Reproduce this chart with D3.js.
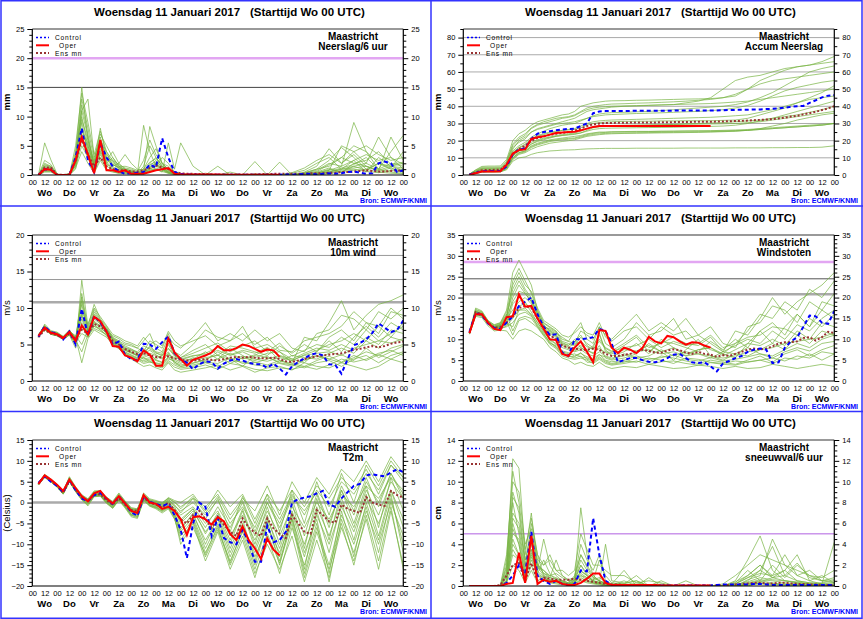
<!DOCTYPE html>
<html lang="nl">
<head>
<meta charset="UTF-8">
<title>EPS pluim Maastricht</title>
<script src="https://cdn.jsdelivr.net/npm/d3@7"></script>
<style>
  body { margin: 0; background: #fff; }
  svg text { font-family: "Liberation Sans", Arial, Helvetica, sans-serif; }
</style>
</head>
<body>
<svg id="chart" width="863" height="619"></svg>
<script>
// tijd-as: 15 dagen, labels per dag
const days = ["Wo","Do","Vr","Za","Zo","Ma","Di","Wo","Do","Vr","Za","Zo","Ma","Di","Wo"];
const mainHours = d3.range(6, 361, 6);                                   // control / ens mn
const operHours = d3.range(6, 241, 6);                                   // oper tot +240
const memberHours = d3.range(6, 145, 6).concat(d3.range(156, 361, 12));  // leden

// ---------- Neerslag/6 uur (mm) ----------
const ctrlNeerslag = [0,1.0,0.9,0,0,0,3,8,2.5,0.5,5.5,3,1.5,0.6,0.2,0.3,0.4,0.5,1.8,1.3,6.3,3.0,0.5,0.2,0.1,0.1,
  0.05,0.05,0.05,0.05,0.05,0.05,0.05,0.05,0.05,0.05,0.05,0.05,0.05,0.05,
  0.1,0.1,0.1,0.2,0.2,0.1,0.2,0.3,0.2,0.3,
  0.5,0.6,0.4,0.2,0.3,2.0,2.3,2.0,0.5,0.8];
const operNeerslag = [0,1.0,0.9,0,0,0,2.5,6.5,3.5,0.3,6.0,0.8,0.8,0.5,0.8,0.2,0.2,0.2,0.5,0.8,1.0,1.2,0.2,0.1,
  0.1,0.1,0.1,0.1,0.1,0.1,0.05,0.05,0.05,0.05,0.05,0.05,0.05,0.05,0.05,0.05];
const meanNeerslag = [0,1.3,1.3,0.1,0,0.1,2.5,6,3.5,1.5,3,1.5,1.0,0.8,0.8,0.6,0.6,0.8,1.2,1.6,1.3,1.0,0.5,0.3,
  0.2,0.2,0.15,0.15,0.1,0.1,0.1,0.1,0.1,0.1,0.1,0.1,0.15,0.15,0.2,0.2,0.2,0.2,0.2,0.2,0.3,0.3,0.3,0.4,0.4,0.5,
  0.5,0.6,0.7,0.8,0.7,0.6,0.6,0.7,0.8,0.7];
const ensNeerslag = [
  [0,1.2,1.0,0,0,0,2.5,9,4,1,5,2,1,0.6,0.5,0.3,0.2,0.4,1.2,2,1,0.4,0.2,0.1, 0,0,0,0,0,0,0,0,0.1,0.2,0.5,1.2,0.4,2,1.5,0.6,1.2,0.5],
  [0,5.5,2.6,0.2,0,0.1,3.5,15,6,2,8,3,2.5,1.2,0.8,0.5,0.3,1,3,4.5,2,1,0.5,0.2, 0,0.1,0,0,0,0.2,0,0,0,0.3,1,2.5,4.7,3,1,2,1.5,0.8],
  [0,0.8,0.9,0,0,0.3,1.5,5,3,0.5,3,1,0.6,0.3,0.4,0.3,0.2,8.5,4,1.5,1,0.5,0.1,0, 0,0,0,0,0,0,0,0,0,0,0.3,0.8,1.5,9,4,1,0.5,0.3],
  [0,2,1.5,0.1,0,0,2,11,13,3,6,4,1.5,2,3.5,2,1,0.8,8.3,5,2,1,0.3,0.1, 0,0,0,0,0.1,0,0.2,0,0.3,0.8,2,3,1,1.5,2,6.5,3,1],
  [0,1,0.8,0,0,0,1,7,5,1.5,4,2.5,4,2,1,0.6,0.2,0.3,0.8,1,0.5,5.5,1,5.5, 1.5,0,0,0,0,0,0,0,0,0.1,0.4,0.8,5,4,2,1,4,6.8],
  [0,1.5,1.2,0,0,0,2,6,3,0.8,3.5,1.5,1,0.8,0.6,0.4,0.2,0.5,1,1.5,3,2,0.5,0.2, 0,0.3,0,0,0,2.3,0,0,0,0,0.2,0.5,1,2.5,0.5,3,1.5,2],
  [0,0.5,0.5,0,0,0,3,13,8,2.5,7,5,3,1.5,1,0.8,0.5,0.5,2,3,1.5,0.5,0.2,0, 0,0,1.5,0,0,0,0,2.2,0,0.5,1.5,4.5,2,3.5,1.5,0.8,6.5,2.5],
  [0,1.8,1.4,0.1,0,0,1.8,8,4.5,1.2,5,2.2,1.2,0.5,0.3,0.2,0.1,0.2,0.6,1,0.6,0.3,0.1,0, 0,0,0,0,0,0,0,0,0,0,0.1,0.3,0.8,1,0.6,0.4,0.8,0.5],
  [0,0.9,1.1,0,0,0,4,10,5,1.8,6,3,2,1,0.7,0.5,0.3,1.5,5,3,1.5,1,0.3,0.1, 0.2,0,0,0.5,0,0,0,0,0,0.2,0.6,1.8,3,5,4,2,1.2,4],
  [0,1.3,1.3,0,0,0,2.2,12,7,1.5,4.5,2.8,1.8,1.2,0.9,0.6,0.4,0.6,1.6,2.5,1.2,0.6,0.3,0.1, 0,0,0,0,0,0,0,0,0,0,0.2,0.6,1.2,1.8,3,1,2,1.5],
  [0,0.6,0.7,0,0,0,1.2,4,2,0.3,2.5,0.8,0.5,0.3,0.3,0.2,0.1,0.3,0.8,1.2,0.8,0.3,0.1,0, 0,0,0,0,0,0,0,0,0,0,0.1,0.2,0.6,0.8,1,0.5,0.3,0.2],
  [0,2.5,1.8,0.1,0,0,5,14,9,3.5,7.5,4,2.5,1.8,1.2,1,0.6,2.5,6,3.5,2,1.5,0.6,0.2, 0,0,0,0,0,0,0,0,0.4,1.2,2.5,3.5,2,4,5,3.5,2.5,3],
  [0,1.1,0.9,0,0,0,2.8,9.5,6,2,5.5,3.5,2.2,1.4,1.5,1.2,0.8,1,2.2,2.8,1.8,0.8,0.3,0.1, 0,0,0,0,0,0,0,0,0,0.4,1,1.5,3,2,2.5,4,1.8,2.2],
  [0,0.7,0.6,0,0,0,1.5,6.5,4,1,3.8,1.8,1.4,0.9,0.7,0.5,0.3,0.4,1,1.8,1,0.5,0.2,0, 0,0,0,0,0,0,0,0,0,0.1,0.3,1,0.5,1.5,0.8,2,1,1],
  [0,1.6,1.5,0.1,0,0,3.2,11,6.5,1.8,6.5,2.5,1.8,1.3,1,0.7,0.4,0.7,1.8,2.2,1.4,0.7,0.3,0.1, 0,0,0,0,0,0,0,0,0,0.3,0.8,2,1.5,2.5,3.5,2.5,3,1.8],
  [0,1.0,1.2,0,0,0,2,7.5,5.5,1.3,4.2,2,3,1.6,0.6,0.4,0.2,0.5,1.4,2,0.9,0.4,0.2,0, 0,0,0,0,0,0,0,0,0,0,0.2,0.5,1,1.2,1.5,0.8,1.5,1.2]
];

// ---------- Accum Neerslag (mm) ----------
const ctrlAccum = [0.3,1.3,2.2,2.3,2.3,2.3,5,12,15,15.5,21,24,25,25.5,26,26.5,26.8,27,28.5,30,36,37,37.2,37.3,
  37.3,37.3,37.3,37.4,37.4,37.4,37.4,37.4,37.4,37.5,37.5,37.5,37.5,37.5,37.5,37.5,
  37.6,37.7,37.8,37.9,38,38,38.1,38.2,38.4,38.5,
  38.8,39.2,39.7,40,40.2,42,43.5,45.2,46.2,46.5];
const operAccum = [0,1,2,2,2,2.2,6,12.5,14.5,15,21,22,22.5,23.5,24.5,24.8,25,25.2,26,27,28,28.5,28.5,28.5,
  28.5,28.5,28.5,28.5,28.5,28.5,28.5,28.5,28.6,28.6,28.6,28.6,28.6,28.6,28.6,28.6];
const meanAccum = [0.2,1.5,2.8,2.9,3,3,6,12,15,17,20,21.5,22.5,23.3,24,24.5,25,25.8,27,28.5,29.5,30,30.2,30.3,
  30.4,30.4,30.5,30.5,30.5,30.6,30.6,30.7,30.7,30.8,30.8,30.9,30.9,31,31,31,
  31.1,31.2,31.3,31.4,31.5,31.7,31.9,32.1,32.3,32.5,
  32.9,33.4,34,34.5,35.3,36,36.8,37.8,38.8,40];
const ensAccum = [
  [0.3,1.5,2.5,2.6,2.6,2.6,5,13,16,17,21,23,24,25,25.5,26,26.2,26.5,27.5,29,30,30.5,30.8,31, 31.2,31.3,31.3,31.5,31.5,31.6,31.6,31.6,31.8,32,33,35,37,39,42,45,48,52],
  [0,1,1.8,1.9,1.9,1.9,3,8,10,10.5,12,13,13.5,14,14.2,14.5,14.6,14.7,15,15.2,15.3,15.4,15.5,15.5, 15.5,15.6,15.6,15.6,15.6,15.7,15.7,15.7,15.7,15.8,15.8,15.8,15.9,15.9,16,16,16.2,17],
  [0.5,3,5,5.2,5.2,5.3,9,20,24,26,29,31,32,33,34,35,35.5,37,40,41,42,42.5,43,43.2, 43.3,43.5,43.6,43.8,44,44.2,44.3,44.5,45,46,50,55,58,61,63,64,66,69],
  [0.2,1.2,2,2.1,2.1,2.2,4,10,13,14,17,18.5,19.5,20.5,21,21.5,22,22.5,23,24,24.5,25,25,25.2, 25.3,25.4,25.4,25.5,25.5,25.6,25.6,25.6,25.7,25.8,26,26.5,27,27.5,28,28.5,29,30],
  [0.4,2,3.5,3.6,3.6,3.7,7,16,19,21,25,27,28,29,30,31,32,33,35,37,38,38.5,39,39.5, 40,40.2,40.5,40.8,41,42,43,45,50,55,57,58,60,62,63,64,65,66],
  [0.1,1.5,2.6,2.7,2.7,2.7,5,11,14,15,18,19.5,20.5,21.5,22.5,23,23.5,24,24.5,25.5,26.5,27,27.2,27.3, 27.4,27.5,27.6,27.7,27.8,28,28.2,28.3,28.5,29,30,31.5,33,35,37,39,41,43],
  [0.6,2.5,4,4.1,4.1,4.2,6,15,20,22,25,26.5,27.5,28.5,29.5,30,30.5,31,32,33,34,34.5,35,35.2, 35.5,35.8,36,36.2,36.5,36.8,37,37.5,38,39,40.5,43,46,49,51,52.5,54,55],
  [0.2,1,1.6,1.7,1.7,1.7,3.5,9,12,13,15,16.5,17.5,18.5,19,19.5,20,20.5,21.5,22.5,23,23.5,23.8,24, 24.2,24.3,24.4,24.5,24.6,24.7,24.8,25,25.2,25.5,26,27,28.5,30,32,33.5,35,36],
  [0.3,1.8,3,3.1,3.1,3.1,6,14,17,19,22,24,25.5,27,28,29,29.5,30,31.5,33,34.5,35.5,36,36.3, 36.5,36.8,37,37.5,38,38.5,39,39.5,40,41,42.5,45,48,52,56,60,62,63.5],
  [0,1.2,2.2,2.3,2.3,2.3,4.5,12,15,16,19,20.5,21.5,22,22.5,23,23.3,23.6,24.5,26,27.5,28,28.2,28.4, 28.6,28.8,29,29.2,29.5,29.8,30,30.3,30.5,31,31.5,32,33,34,35,36.5,38,40],
  [0.2,1.4,2.4,2.5,2.5,2.5,4.5,11,14,15,18,20,21,22,23,23.5,24,24.5,25.5,27,28,28.5,28.7,28.8, 29,29.1,29.2,29.3,29.4,29.5,29.6,29.7,29.8,30,30.5,31,32,33,34,35,36,37],
  [0.4,2.2,3.8,3.9,3.9,4,7.5,17,21,23,27,29,30,31,32,33,33.5,34.5,36.5,38,39,39.5,39.8,40, 40.2,40.4,40.6,40.8,41,41.2,41.4,41.6,42,42.5,43,44,45,46,47,48,49,50],
  [0.1,1.1,2,2.1,2.1,2.1,4,10,13,14,16.5,18,19,20,20.5,21,21.3,21.6,22.5,23.5,24.2,24.6,24.8,25, 25.1,25.2,25.3,25.4,25.5,25.6,25.7,25.8,26,26.2,26.5,27,27.5,28,28.5,29,29.5,30],
  [0.3,1.6,2.8,2.9,2.9,3,5.5,13,16,18,21,22.5,23.5,24.5,25,26,26.5,27,28.5,30,31,31.5,31.8,32, 32.2,32.4,32.6,32.8,33,33.2,33.4,33.6,34,34.5,35,36.5,38,40,42,44,45,46],
  [0.2,1.3,2.3,2.4,2.4,2.4,4.2,9.5,12.5,13.5,16,17.5,18.5,19.5,20,20.5,20.8,21.2,22,23,23.6,24,24.2,24.4, 24.5,24.6,24.7,24.8,24.9,25,25.1,25.2,25.4,25.6,26,26.5,27,27.5,28,28.5,29,30],
  [0.5,2.8,4.5,4.6,4.6,4.7,8,18,22,24,27.5,29.5,31,32,33,33.5,34,35,37,39,40,40.5,41,41.3, 41.5,41.8,42,42.3,42.6,43,43.5,44,45,47,50,53,55,56,57,58,59,60]
];

// ---------- 10m wind (m/s) ----------
const ctrlWind = [6.1,7.5,6.7,6.5,5.7,6.8,5.0,9.9,6.2,8.9,8.0,6.8,5.0,5.4,3.6,3.0,2.8,5.1,5.0,4.4,5.3,6.1,3.8,3.0,
  2.5,1.6,2.3,2.7,2.6,1.7,2.4,2.8,3.0,2.8,2.5,2.3,2.3,1.8,2.4,1.7,
  0.9,2.0,2.6,3.1,3.6,3.8,3.5,2.3,2.2,1.0,
  3.0,4.9,5.2,5.7,6.6,7.9,7.3,6.7,7.0,8.3];
const operWind = [6.2,7.3,6.6,6.4,5.9,6.7,5.5,7.6,6.4,8.8,8.2,6.8,4.8,4.7,3.5,3.2,2.7,4.2,3.6,2.1,2.1,5.8,3.9,3.0,
  2.1,2.9,3.2,3.5,3.9,4.8,4.2,4.2,4.5,5.0,4.8,4.4,4.0,4.3,4.2,3.3];
const meanWind = [6.0,7.0,6.5,6.3,5.8,6.5,5.8,7.0,6.5,7.8,7.5,6.8,5.5,5.0,4.4,4.0,3.7,3.8,3.5,3.3,3.2,3.4,3.1,2.9,
  2.8,2.8,2.9,3.0,2.9,2.8,3.0,3.2,3.3,3.2,3.3,3.2,3.1,3.1,3.2,3.0,
  2.7,2.6,2.8,3.0,3.2,3.4,3.5,3.6,3.7,3.8,
  4.0,4.3,4.4,4.6,4.8,4.6,4.8,5.1,5.3,5.4];
const ensWind = [
  [6.2,7.3,6.5,6.4,5.9,6.6,5.5,7.5,6.5,8.0,7.6,6.8,5.6,5.0,4.2,3.8,3.5,3.0,3.2,2.8,2.5,3.3,3.0,2.6, 2.8,3.2,3.5,2.9,3.4,3.0,2.7,3.2,2.8,3.5,3.8,4.0,3.5,4.5,5.0,5.5,5.2,5.8],
  [6.0,7.0,6.4,6.2,5.7,6.3,4.5,13.8,7.5,10.5,8.5,7.5,6.0,5.5,5.0,4.8,4.5,4.0,5.5,5.0,4.5,6.5,4.0,3.5, 5.0,7.0,6.0,5.5,7.5,4.5,5.0,4.0,2.5,6.0,5.5,8.0,11.0,7.0,9.0,10.5,11.0,11.8],
  [6.3,7.5,6.8,6.6,6.0,6.9,6.0,2.5,5.8,7.0,6.5,6.0,5.0,4.5,3.5,3.0,2.5,2.0,2.2,1.8,1.5,2.5,1.5,1.2, 1.5,1.8,2.2,1.5,2.0,1.2,1.8,2.0,1.5,2.5,2.0,1.8,2.5,2.0,1.5,2.0,3.0,2.5],
  [6.1,7.8,6.9,6.7,6.1,7.0,5.8,11.5,6.8,9.0,8.0,7.2,5.8,5.2,4.5,4.2,3.8,4.5,3.5,3.0,3.5,5.0,3.5,2.8, 3.0,4.0,3.0,4.5,3.5,2.5,3.0,3.5,3.0,2.5,4.0,5.5,4.0,6.0,7.5,6.0,8.0,7.0],
  [6.0,7.2,6.6,6.3,5.8,6.5,5.2,9.0,6.2,8.5,7.8,6.5,5.4,4.8,4.0,3.6,3.2,3.8,4.2,3.6,3.0,4.0,2.6,2.2, 2.5,2.8,4.0,3.0,2.0,3.5,4.5,2.8,2.2,3.0,3.5,3.0,2.5,3.2,4.0,3.5,4.5,5.0],
  [6.4,7.6,6.7,6.5,6.0,6.8,6.2,5.0,7.0,7.5,7.2,6.6,5.2,4.6,3.8,3.4,3.0,2.8,3.0,2.2,2.0,2.8,2.2,1.8, 2.0,2.5,2.0,2.8,2.6,2.2,2.0,2.5,2.2,1.8,2.5,2.8,2.0,3.0,3.5,2.5,3.5,4.0],
  [6.2,7.4,6.5,6.4,5.9,6.6,5.6,10.5,6.6,9.5,8.2,7.0,6.2,5.8,5.2,5.0,4.5,5.5,6.5,4.5,4.0,6.0,5.0,4.5, 6.0,8.0,5.5,6.5,5.5,7.0,5.5,6.5,4.5,4.0,6.5,7.0,9.0,8.5,7.0,9.5,8.5,10.0],
  [6.1,7.1,6.4,6.2,5.7,6.4,5.0,7.5,6.0,7.8,7.0,6.2,5.0,4.4,3.6,3.2,2.8,3.2,2.6,2.4,2.2,3.0,2.8,2.4, 3.2,2.6,3.0,3.8,3.0,3.6,3.2,2.6,3.5,3.2,3.0,3.8,4.5,3.8,5.5,4.5,6.0,5.5],
  [6.3,7.5,6.6,6.5,6.0,6.8,5.9,8.5,6.4,8.2,7.5,6.9,5.5,4.9,4.4,4.0,3.6,3.4,3.8,3.5,3.2,3.6,3.2,3.0, 3.5,3.6,4.2,3.5,4.0,3.2,3.8,4.0,3.0,3.8,4.5,4.2,5.0,4.2,6.0,5.0,7.0,6.5],
  [6.0,7.3,6.5,6.3,5.8,6.6,5.4,12.0,7.2,9.8,8.4,7.3,5.8,5.3,4.8,4.4,3.9,3.6,4.8,4.0,3.8,5.2,3.8,3.2, 4.2,5.0,3.5,4.8,4.5,4.0,3.5,4.8,3.8,5.0,4.0,6.0,7.0,5.5,8.0,6.5,9.5,9.0],
  [6.1,7.2,6.5,6.3,5.8,6.5,5.3,6.5,6.0,7.5,7.0,6.3,5.3,4.7,3.9,3.5,3.1,2.6,2.8,2.0,1.8,2.6,1.9,1.6, 1.8,2.2,1.6,2.4,2.1,1.6,1.4,1.8,1.6,2.0,1.6,2.2,3.0,2.6,3.0,3.8,4.2,3.5],
  [6.2,7.6,6.8,6.6,6.1,6.9,6.0,9.5,7.8,10.0,8.8,7.6,6.4,6.0,5.5,5.2,4.8,6.0,5.0,5.5,4.8,6.8,5.5,4.8, 5.5,6.2,4.8,5.5,6.5,5.0,6.0,4.2,4.0,5.5,6.0,6.5,7.5,9.5,8.0,7.5,10.0,8.5],
  [6.0,7.1,6.4,6.2,5.7,6.3,5.1,8.0,6.2,8.0,7.3,6.6,5.3,4.6,4.2,3.9,3.4,3.2,3.6,2.9,2.6,3.8,2.4,2.0, 2.4,3.0,3.6,2.4,3.2,2.8,3.4,2.4,2.0,2.8,3.4,3.0,3.6,2.8,4.5,3.2,4.0,4.8],
  [6.3,7.4,6.7,6.5,6.0,6.8,5.7,11.0,7.0,9.2,8.1,7.1,5.9,5.4,4.6,4.3,4.0,4.8,4.4,3.8,3.6,4.5,3.4,3.2, 3.8,4.5,5.2,4.0,4.8,5.5,4.0,5.2,3.4,4.2,5.0,4.6,6.0,5.0,7.0,5.5,6.5,7.5],
  [6.1,7.3,6.6,6.4,5.9,6.7,5.6,4.0,6.4,7.2,6.8,6.4,5.1,4.5,3.7,3.3,2.9,2.4,2.6,2.5,2.3,3.2,2.6,2.0, 2.2,2.6,2.4,3.2,2.4,2.6,2.2,2.8,2.4,2.0,2.8,3.4,2.6,3.5,2.8,3.6,3.0,3.8],
  [6.2,7.5,6.7,6.5,5.9,6.8,5.8,9.2,6.8,8.7,7.9,7.0,5.7,5.1,4.3,3.9,3.5,4.0,4.6,3.9,3.4,4.4,3.6,2.9, 3.4,3.8,4.6,3.6,4.2,3.8,4.6,3.4,2.8,3.6,4.2,5.0,5.5,6.5,5.5,7.5,6.0,8.0]
];

// ---------- Windstoten (m/s) ----------
const ctrlGust = [11.8,16.3,15.8,13.8,12.7,12.5,14.0,15.5,18.0,19.0,20.0,16.0,13.0,11.0,11.2,6.8,6.0,10.0,10.0,10.2,10.5,12.5,12.0,9.0,
  4.5,5.0,5.5,5.5,5.0,4.6,4.5,4.8,5.5,6.3,6.5,5.5,4.5,4.3,4.5,3.5,
  2.3,4.2,4.8,5.5,6.0,7.0,7.5,7.8,7.5,4.3,
  4.5,8.0,9.5,10.5,13.0,15.7,15.5,14.0,13.7,16.8];
const operGust = [11.5,16.0,16.0,14.0,12.5,12.2,15.3,15.5,20.8,17.8,18.0,15.0,12.5,10.0,9.8,6.5,6.0,8.0,9.5,7.0,4.5,12.2,12.0,8.0,
  6.7,8.0,7.5,6.7,8.0,10.6,9.5,9.0,10.8,10.5,9.5,8.7,9.3,9.2,8.5,8.0];
const meanGust = [11.5,16.5,16.0,14.0,12.8,13.0,14.0,15.5,17.5,18.0,17.5,15.0,12.5,11.0,10.0,8.5,8.0,7.8,7.5,7.5,7.8,7.5,6.5,6.0,
  6.0,6.3,6.5,7.0,7.5,7.2,6.8,6.8,7.3,7.6,7.4,6.8,6.5,7.0,6.5,6.3,
  5.8,6.2,6.0,6.5,7.0,7.5,7.8,7.6,7.8,8.3,
  9.0,9.3,9.3,9.5,10.3,10.5,9.7,10.5,11.8,11.5];
const ensGust = [
  [11.5,16.5,16.0,14.0,12.8,13.2,14.5,16.0,18.0,18.5,17.5,15.0,12.5,11.0,10.0,8.0,7.5,7.0,7.5,6.5,6.0,7.0,6.0,5.5, 6.0,7.0,7.5,6.5,7.0,6.0,6.5,6.0,5.5,6.0,7.0,7.5,8.0,9.0,9.5,10.0,10.5,11.5],
  [11.8,17.5,16.8,14.5,13.5,14.0,17.0,26.0,29.0,26.0,23.0,17.0,14.0,13.0,12.0,10.0,9.5,9.0,12.0,11.0,10.0,13.0,9.0,8.0, 10.0,14.0,11.0,12.0,15.0,10.0,11.0,9.0,7.0,12.0,11.0,15.0,20.0,16.0,19.0,21.0,23.0,26.0],
  [11.2,15.5,15.2,13.2,12.0,12.2,12.0,10.0,12.0,12.5,12.0,11.0,10.0,8.0,7.0,5.5,5.0,4.0,4.5,3.8,3.5,4.5,3.5,3.0, 3.5,3.2,4.0,3.5,3.0,3.2,3.8,3.5,3.0,3.5,3.0,3.2,4.0,3.5,3.0,3.5,4.0,3.5],
  [11.6,16.8,16.2,14.2,13.0,13.5,15.5,22.0,25.0,22.0,20.0,16.0,13.5,12.0,11.0,9.0,8.5,10.0,8.0,7.0,8.5,11.0,7.5,6.0, 7.0,9.0,6.5,10.0,8.0,6.0,7.5,8.0,6.5,5.5,9.0,12.0,9.0,13.0,16.0,13.0,17.0,15.0],
  [11.4,16.0,15.8,13.8,12.5,12.8,13.5,18.5,20.0,19.0,16.5,14.0,12.0,10.0,9.0,7.0,6.5,7.5,8.5,7.5,6.5,8.5,5.5,5.0, 5.5,6.5,9.0,7.0,5.0,7.5,10.0,6.0,5.0,6.5,8.0,6.5,6.0,7.5,9.0,8.0,10.0,11.0],
  [11.7,17.0,16.5,14.3,13.2,13.8,16.0,12.0,15.0,15.5,15.0,13.0,11.0,9.5,8.0,6.5,6.0,5.5,6.0,4.5,4.5,5.5,4.5,4.0, 4.5,5.5,4.5,6.0,5.5,4.8,4.2,5.0,4.5,4.0,5.0,6.0,4.5,6.5,7.5,6.0,7.5,8.5],
  [11.5,16.2,15.9,13.9,12.7,13.1,14.0,20.0,23.0,21.0,19.0,16.5,13.0,12.5,11.5,10.5,9.5,12.0,14.0,10.0,9.0,13.0,11.0,10.0, 13.0,16.0,12.0,14.0,12.0,15.0,11.0,13.0,9.0,8.0,13.0,14.0,18.0,17.0,14.0,19.0,17.0,21.0],
  [11.3,15.8,15.5,13.6,12.3,12.6,13.0,14.0,16.0,16.5,15.5,13.5,11.5,9.0,8.5,6.8,6.2,6.5,5.8,5.5,5.0,6.2,5.8,5.2, 6.5,5.5,6.0,7.5,6.0,7.0,6.5,5.5,7.0,6.5,6.0,7.5,9.0,7.5,11.0,9.0,12.0,11.0],
  [11.6,16.6,16.1,14.1,12.9,13.4,15.0,17.0,19.0,20.0,18.5,15.5,12.8,11.5,10.5,8.5,7.8,7.2,8.0,7.2,6.8,7.8,6.8,6.5, 7.5,7.2,8.5,7.0,8.0,6.5,7.5,8.0,6.0,7.5,9.0,8.5,10.0,8.5,12.0,10.0,14.0,13.0],
  [11.5,16.4,16.0,14.0,12.8,13.3,14.8,24.0,27.0,24.0,21.0,16.8,13.8,12.8,11.8,9.5,9.0,8.5,10.5,9.0,8.0,11.5,7.0,6.8, 8.5,10.5,7.0,9.5,9.0,8.0,7.0,9.5,7.5,10.0,8.0,12.0,14.0,11.0,16.0,13.0,19.0,18.0],
  [11.4,16.1,15.7,13.7,12.6,12.9,13.8,13.0,17.0,17.5,16.0,14.0,11.8,9.8,8.8,7.2,6.8,6.0,6.6,5.8,5.4,6.4,5.0,4.6, 5.0,6.0,5.2,5.6,6.2,5.2,4.8,5.6,4.8,5.2,5.8,6.5,5.5,7.0,8.0,7.2,9.0,9.5],
  [11.7,17.2,16.6,14.4,13.4,13.9,16.5,23.0,26.0,23.0,21.5,17.5,14.5,13.5,12.5,11.0,10.5,11.5,13.0,11.5,11.0,14.0,10.5,9.5, 12.0,13.0,10.0,13.0,11.0,12.0,9.0,11.0,8.0,9.0,12.0,16.0,15.0,19.0,17.0,22.0,20.0,24.0],
  [11.3,15.9,15.6,13.7,12.4,12.5,13.2,15.0,17.0,17.0,15.8,13.2,11.2,9.2,8.2,6.5,6.0,5.8,6.8,5.2,4.8,5.8,4.8,4.2, 4.8,4.5,5.5,5.0,4.2,5.5,5.2,4.5,4.2,4.8,4.5,5.0,5.5,4.8,6.0,5.5,7.0,6.5],
  [11.6,16.7,16.3,14.2,13.1,13.6,15.8,21.0,24.0,21.5,19.5,16.2,13.2,12.2,11.2,9.2,8.6,9.5,11.0,8.5,7.5,10.0,8.0,7.2, 9.0,11.0,8.0,9.0,10.5,9.0,8.5,10.5,7.0,8.5,10.0,9.0,12.0,10.0,13.5,12.0,15.0,17.0],
  [11.5,16.3,15.9,13.9,12.7,13.0,14.2,11.0,14.5,15.0,14.0,12.8,10.8,8.8,7.8,6.0,5.5,5.2,5.5,5.0,4.2,5.2,4.2,3.8, 4.2,4.8,4.0,4.6,4.8,4.2,3.8,4.4,4.0,3.8,4.6,5.0,4.2,5.5,5.2,6.5,5.0,6.5],
  [11.6,16.6,16.2,14.1,13.0,13.5,15.2,19.0,21.5,21.0,19.0,15.8,13.0,11.8,10.8,8.8,8.2,8.8,9.5,8.2,7.6,9.5,7.8,7.0, 8.0,8.5,10.0,8.0,9.5,8.5,9.0,7.5,6.5,9.0,10.5,11.0,13.0,12.5,11.0,15.0,13.0,16.0]
];

// ---------- T2m (Celsius) ----------
const ctrlT2m = [4.7,6.3,5.0,4.0,2.5,5.5,3.0,1.0,0.3,1.8,2.3,1.0,-0.3,1.5,-0.2,-2.3,-3.2,1.5,0.2,-0.3,-0.8,-0.3,-3.0,-6.5,
  -13.3,-5.0,0.0,-1.0,-8.0,-3.7,-8.5,-9.5,-10.0,-6.5,-9.5,-14.2,-14.2,-5.5,-9.5,-9.0,
  -7.0,0.0,0.8,1.2,1.5,2.2,2.8,-0.5,-1.0,1.0,
  2.5,4.0,4.5,6.5,6.8,6.5,6.3,7.2,8.0,7.3];
const operT2m = [4.5,6.5,5.5,4.3,2.8,5.5,3.5,1.5,0.3,2.2,2.8,1.0,-0.2,1.5,-0.2,-2.0,-2.5,1.8,0.0,-0.3,-1.5,-1.0,-2.0,-4.0,
  -7.8,-3.5,-3.3,-4.0,-5.3,-3.5,-4.5,-7.5,-9.0,-5.7,-9.0,-11.0,-13.5,-8.6,-11.3,-12.7];
const meanT2m = [4.5,6.3,5.2,4.0,2.3,5.2,3.0,1.2,0.5,1.8,2.0,0.5,-0.5,1.0,-0.5,-1.8,-2.0,1.2,0.0,-0.5,-1.2,0.0,-1.8,-4.0,
  -5.0,-3.0,-2.0,-4.0,-6.0,-3.8,-5.3,-7.0,-8.0,-3.8,-6.0,-7.2,-8.0,-3.8,-6.2,-7.5,
  -8.5,-3.0,-5.0,-7.0,-7.5,-1.8,-3.0,-4.5,-4.8,-0.5,
  -1.5,-2.0,-2.5,1.3,0.0,-0.5,-0.8,2.8,1.8,1.2];
const ensT2m = [
  [4.5,6.4,5.3,4.1,2.4,5.4,3.2,1.3,0.3,1.9,2.2,0.7,-0.6,1.2,-0.3,-2.0,-2.2,1.4,0.1,-0.4,-1.0,0.3,-1.5,-3.0, -1.0,-5.0,-2.0,-8.0,-3.0,-9.0,-2.0,-8.0,-1.0,-6.0,0.0,-4.0,2.0,-1.0,4.0,1.0,6.0,3.0],
  [4.2,6.0,5.0,3.7,2.0,5.0,2.6,0.6,-0.8,1.4,1.5,-0.2,-1.4,0.5,-1.3,-3.4,-3.8,0.5,-0.9,-1.5,-2.5,-1.5,-4.0,-8.0, -4.0,-12.0,-6.0,-15.0,-8.0,-17.0,-10.0,-16.0,-8.0,-19.0,-9.0,-18.0,-6.0,-14.0,-4.0,-16.0,-2.0,-15.0],
  [4.8,6.8,5.7,4.4,2.8,6.2,3.8,1.9,0.9,2.8,2.9,1.3,0.3,2.3,0.4,-1.2,-1.5,2.3,0.9,0.5,0.0,1.0,0.0,-1.0, 1.0,-1.0,2.0,-3.0,1.0,-2.0,4.0,-3.0,5.0,0.0,6.0,2.0,8.0,5.0,10.0,5.0,11.0,7.0],
  [4.4,6.2,5.1,3.9,2.2,5.2,2.9,1.0,0.0,1.6,1.9,0.2,-1.0,0.8,-0.8,-2.8,-3.0,0.9,-0.5,-1.0,-1.8,-0.5,-2.5,-6.0, -3.0,-9.0,-4.0,-12.0,-5.0,-13.0,-6.0,-12.0,-4.0,-13.0,-3.0,-10.0,-1.0,-7.0,1.0,-5.0,3.0,-4.0],
  [4.6,6.5,5.4,4.2,2.6,5.8,3.4,1.6,0.6,2.4,2.6,1.0,-0.2,1.8,0.2,-1.6,-1.8,1.8,0.5,0.0,-0.5,0.8,-0.8,-2.0, 0.0,-3.0,0.5,-5.0,-1.0,-6.0,1.0,-4.0,2.0,-3.0,3.0,-1.0,5.0,2.0,7.0,3.0,9.0,6.0],
  [4.3,6.1,5.0,3.8,2.1,5.1,2.7,0.8,-0.5,1.5,1.7,0.0,-1.2,0.6,-1.0,-3.0,-3.4,0.7,-0.7,-1.2,-2.0,-1.0,-3.5,-10.0, -5.0,-14.0,-7.0,-16.0,-9.0,-18.0,-8.0,-17.0,-6.0,-15.0,-5.0,-19.0,-4.0,-12.0,-2.0,-10.0,0.0,-8.0],
  [4.5,6.3,5.2,4.0,2.3,5.3,3.1,1.2,0.2,1.8,2.1,0.5,-0.7,1.1,-0.5,-2.2,-2.5,1.2,0.0,-0.6,-1.2,0.0,-2.0,-5.0, -2.0,-7.0,-3.0,-10.0,-2.0,-11.0,-3.0,-13.0,-2.0,-10.0,-1.0,-8.0,1.0,-6.0,3.0,-3.0,5.0,1.0],
  [4.7,6.6,5.5,4.3,2.7,6.0,3.6,1.7,0.8,2.6,2.7,1.2,0.1,2.1,0.3,-1.4,-1.6,2.0,0.7,0.3,-0.2,1.2,0.5,0.0, 2.0,-2.0,3.0,-1.0,2.0,-4.0,2.0,-2.0,3.0,-1.0,4.0,1.0,6.0,3.0,8.0,2.0,9.0,5.0],
  [4.4,6.2,5.2,4.0,2.3,5.3,3.0,1.1,0.1,1.7,2.0,0.4,-0.8,1.0,-0.7,-2.5,-2.8,1.0,-0.3,-0.8,-1.5,-0.8,-3.0,-7.0, -3.5,-11.0,-5.0,-13.0,-6.0,-15.0,-5.0,-14.0,-4.0,-17.0,-6.0,-15.0,-3.0,-10.0,-1.0,-12.0,1.0,-10.0],
  [4.6,6.4,5.3,4.1,2.5,5.6,3.3,1.4,0.4,2.1,2.3,0.8,-0.4,1.5,0.0,-1.8,-2.0,1.6,0.3,-0.2,-0.8,0.5,-1.0,-4.0, -1.5,-6.0,-1.0,-6.0,0.0,-8.0,0.0,-6.0,1.0,-8.0,2.0,-6.0,4.0,-2.0,6.0,-1.0,7.0,2.0],
  [4.5,6.3,5.2,4.0,2.3,5.3,3.0,1.1,0.2,1.8,2.0,0.4,-0.8,1.0,-0.6,-2.4,-2.7,1.1,-0.2,-0.7,-1.4,-0.6,-2.8,-6.5, -2.5,-10.0,-3.5,-11.0,-4.0,-14.0,-4.5,-15.0,-3.0,-16.0,-2.0,-12.0,0.0,-9.0,2.0,-8.0,3.0,-6.0],
  [4.6,6.5,5.4,4.2,2.6,5.7,3.4,1.5,0.5,2.2,2.4,0.9,-0.3,1.6,0.1,-1.7,-1.9,1.7,0.4,-0.1,-0.6,0.6,-0.5,-2.5, 1.0,-4.0,1.0,-7.0,1.5,-5.0,2.0,-7.0,3.0,-5.0,5.0,-3.0,7.0,0.0,9.0,4.0,10.0,6.0],
  [4.4,6.2,5.1,3.9,2.2,5.1,2.8,0.9,-0.2,1.6,1.8,0.1,-1.1,0.7,-0.9,-2.9,-3.2,0.8,-0.6,-1.1,-1.9,-1.2,-3.8,-9.0, -4.5,-13.0,-6.5,-14.0,-7.0,-16.0,-7.5,-14.5,-5.0,-18.0,-7.0,-16.0,-5.0,-15.0,-3.0,-14.0,-1.0,-16.0],
  [4.5,6.4,5.3,4.1,2.5,5.5,3.2,1.3,0.3,2.0,2.2,0.6,-0.5,1.3,-0.2,-2.0,-2.2,1.4,0.2,-0.3,-1.0,0.2,-1.8,-4.5, -1.5,-7.5,-2.5,-9.0,-1.5,-10.0,-1.0,-10.0,0.0,-11.0,1.0,-9.0,3.0,-5.0,4.0,-6.0,6.0,-2.0],
  [4.7,6.6,5.5,4.3,2.7,5.9,3.5,1.6,0.7,2.5,2.6,1.1,0.0,1.9,0.2,-1.5,-1.7,1.9,0.6,0.2,-0.3,1.0,0.2,-1.5, 1.5,-2.5,1.5,-4.0,0.5,-7.0,0.0,-5.0,1.5,-2.0,2.5,-5.0,3.0,-3.0,5.0,0.0,7.0,1.0],
  [4.3,6.1,5.1,3.8,2.1,5.0,2.7,0.7,-0.4,1.5,1.6,-0.1,-1.3,0.6,-1.1,-3.1,-3.6,0.6,-0.8,-1.3,-2.2,-1.3,-3.2,-7.5, -6.0,-12.5,-5.5,-14.5,-6.5,-12.0,-4.0,-11.0,-2.5,-12.0,-4.0,-17.0,-2.0,-13.0,0.0,-9.0,2.0,-12.0]
];

// ---------- sneeuwval/6 uur (cm) ----------
const ctrlSnow = [0,0,0,0,0,0,0.3,1.0,2.0,1.2,5.2,1.0,0.5,0.2,0.5,0.2,0.1,0.2,1.5,1.4,6.5,3.0,0.5,0.1,
  0.1,0.05,0.05,0.05,0.05,0.05,0.05,0.05,0.05,0.05,0.05,0.05,0.05,0.05,0.05,0.05,
  0.1,0.15,0.15,0.15,0.15,0.15,0.2,0.2,0.15,0.1,
  0.1,0.1,0.1,0.1,0.1,0.1,0.1,0.1,0.1,0.05];
const operSnow = [0,0,0,0,0,0,0.2,0.3,3.2,0.3,4.8,0.2,0.6,0.4,0.5,0.2,0.1,0.1,0.3,0.7,1.2,1.2,0.3,0.1,
  0.1,0.1,0.1,0.1,0.1,0.1,0.1,0.05,0.05,0.05,0.05,0.05,0.05,0.05,0.05,0.05];
const meanSnow = [0,0,0,0,0,0.1,1.0,2.0,2.2,0.5,2.2,0.5,0.8,0.7,0.6,0.6,0.6,0.7,0.6,0.5,0.4,0.3,0.2,0.15,
  0.15,0.1,0.1,0.1,0.1,0.08,0.08,0.08,0.05,0.05,0.05,0.05,0.05,0.05,0.05,0.05,
  0.05,0.1,0.1,0.15,0.2,0.25,0.3,0.3,0.25,0.25,
  0.3,0.3,0.25,0.2,0.2,0.15,0.15,0.1,0.1,0.1];
const ensSnow = [
  [0,0,0,0,0,0,0.5,3,2.5,0.5,2,0.5,0.8,0.5,0.5,0.3,0.2,0.3,1.5,1,0.5,0.3,0.1,0, 0,0,0,0,0,0,0,0,0,0,0.2,0.5,0.3,0.1,0.2,0,0,0],
  [0,0,0,0,0,0,1.5,12.2,11.3,3,7,2,1.5,1,0.8,0.5,0.3,1,3,2,1,0.5,0.2,0.1, 0.5,0,0,0,0,0,0,0,0,0.5,2.5,4.8,1.5,0.5,0.3,0.2,0.1,0],
  [0,0,0,0,0,0,0.2,6,4,1,5,1.5,4.5,2,1,0.5,0.3,0.5,7.5,3,1,0.5,0.2,0, 0,0,0,0,0,0,0,0,0,0,0.5,1.5,3.8,1,0.5,0.3,0.2,0.1],
  [0,0,0,0,0,0,2,9,7,2,6,3,1,0.8,2.5,1,0.5,0.5,2,1,0.5,0.3,4,0.5, 0.3,0.5,0,0,0,0,0,0,0,0.2,1,2,1,3,1,0.5,0.2,4.2],
  [0,0,0,0,0,0,0.3,2,1.5,0.3,1.5,0.3,0.5,0.3,0.2,0.1,0.1,0.2,0.5,0.3,0.2,0.1,0,0, 0,0,0,0,0,0,0,0,0,0,0.1,0.2,0.1,0.1,0,0,0,0],
  [0,0,0,0,0,0,1,8,5,1.5,4,2,1.2,0.8,0.6,0.4,0.2,0.4,1,0.8,0.5,2.5,1,0.3, 0.2,1,0,0.5,0,0,0,0,0,0.3,1.5,0.5,2,0.8,2,1,0.5,0.3],
  [0,0,0,0,0,0.1,3,10,9,4,5.5,2.5,2,3,1.5,1,0.6,0.8,4,2.5,1.5,3,0.5,0.2, 1.5,0,0.8,0,0,0.5,0,0,0,0.2,0.8,1.5,0.8,1.5,3,0.5,1,0.3],
  [0,0,0,0,0,0,0.5,4,3,0.8,2.5,1,0.6,0.4,0.3,0.2,0.1,0.2,0.8,0.5,0.3,0.2,0.1,0, 0,0,0,0,0,0,0,0,0,0,0,0.3,0.2,0.1,0.1,0,0.2,0],
  [0,0,0,0,0,0,1.2,7,6,2.5,3.5,1.8,1,0.6,0.5,0.4,0.2,0.6,2.5,1.5,0.8,0.5,0.2,0.1, 0,0.3,0,0,0,0,0,0,0,0,0.6,1,4.5,2,1,1.5,0.5,0.8],
  [0,0,0,0,0,0,0.8,5,4.5,1.2,3,1.2,0.8,0.5,0.4,0.3,0.2,0.3,1.2,0.8,0.4,0.3,0.1,0, 0,0,0,0,0,0,0,0,0,0,0.3,0.6,0.5,0.3,0.2,0.1,0.1,0.2],
  [0,0,0,0,0,0,0.4,4.5,3,0.6,3.5,1.2,2.5,1.2,0.6,0.3,0.2,0.3,1,0.6,0.3,0.2,0.1,0, 0,0,0,0,0,0,0,0,0,0,0.2,0.4,0.8,0.5,0.3,0.2,0.1,0],
  [0,0,0,0,0,0,2.5,11,8,3.5,6.5,3,2,2.5,1.5,1.5,1,1.5,5,3.5,2,2,1.5,1, 1,0.3,0.5,0.3,0,0,0,0,0.2,1,2,3,2.5,2,1.5,1,0.8,1.5],
  [0,0,0,0,0,0,1.2,6.5,5.5,1.8,4.5,1.8,1.5,0.8,0.7,0.5,0.3,0.8,3,1.8,0.8,0.5,0.3,0.1, 0,0,0,0,0,0,0,0,0,0.2,0.8,1.2,1,1.5,0.5,0.3,0.3,0.5],
  [0,0,0,0,0,0,0.6,3.5,2.5,0.5,2.8,1,0.8,0.4,0.4,0.3,0.2,0.2,0.6,0.4,0.3,0.2,0.1,0, 0,0,0,0,0,0,0,0,0,0,0.1,0.3,0.2,0.2,0.1,0.1,0,0],
  [0,0,0,0,0,0,1.8,8.5,7.5,2.5,5,2.2,1.2,1,1.2,0.8,0.5,0.6,2,1.2,0.6,0.8,0.4,0.2, 0.2,0.5,0,0.2,0,0,0,0,0,0.4,1,2,0.8,1,2.2,0.8,0.5,0.6],
  [0,0,0,0,0,0,0.9,5.5,4,1,3.2,1.4,0.9,0.6,0.5,0.3,0.2,0.4,1.4,1,0.5,0.4,0.2,0.1, 0,0,0,0,0,0,0,0,0,0.1,0.4,0.8,0.6,0.5,0.4,0.2,0.2,0.3]
];

const panels = [
  {col:0, row:0, dom:[0,25], major:5, minor:1, unit:"mm", name:"Neerslag/6 uur",
   ctrl:ctrlNeerslag, oper:operNeerslag, mean:meanNeerslag, ens:ensNeerslag,
   refs:[{v:20, c:"#e2a6f2", w:2.5}, {v:15, c:"#444", w:1}]},
  {col:1, row:0, dom:[0,85], major:10, minor:5, unit:"mm", name:"Accum Neerslag",
   ctrl:ctrlAccum, oper:operAccum, mean:meanAccum, ens:ensAccum,
   refs:[10,20,30,40,50,60,70,80].map(v => ({v:v, c:"#aaa", w:1}))},
  {col:0, row:1, dom:[0,20], major:5, minor:1, unit:"m/s", name:"10m wind",
   ctrl:ctrlWind, oper:operWind, mean:meanWind, ens:ensWind,
   refs:[{v:10.8, c:"#aaa", w:2.5}, {v:13.9, c:"#999", w:1}, {v:17.2, c:"#999", w:1}]},
  {col:1, row:1, dom:[0,35], major:5, minor:1, unit:"m/s", name:"Windstoten",
   ctrl:ctrlGust, oper:operGust, mean:meanGust, ens:ensGust,
   refs:[{v:20.8, c:"#aaa", w:2.5}, {v:24.5, c:"#555", w:1}, {v:28.5, c:"#e2a6f2", w:2.5}]},
  {col:0, row:2, dom:[-20,15], major:5, minor:1, unit:"(Celsius)", name:"T2m",
   ctrl:ctrlT2m, oper:operT2m, mean:meanT2m, ens:ensT2m,
   refs:[{v:0, c:"#aaa", w:2.5}]},
  {col:1, row:2, dom:[0,14], major:2, minor:0.5, unit:"cm", name:"sneeuwval/6 uur",
   ctrl:ctrlSnow, oper:operSnow, mean:meanSnow, ens:ensSnow,
   refs:[{v:5, c:"#b060e0", w:1}]}
];

const svg = d3.select("#chart");
const rowOff = [0, 206, 411];
const L = 32.3, R = 403.3, T = 29, B = 175;

panels.forEach((p, pi) => {
  const g = svg.append("g").attr("transform", `translate(${p.col * 431},${rowOff[p.row]})`);
  const x = d3.scaleLinear().domain([0, 360]).range([L, R]);
  const y = d3.scaleLinear().domain(p.dom).range([B, T]);

  g.append("clipPath").attr("id", "clip" + pi)
    .append("rect").attr("x", L).attr("y", T).attr("width", R - L).attr("height", B - T);

  // titel
  g.append("text").attr("x", 94).attr("y", 15.5)
    .attr("font-size", 11.5).attr("font-weight", "bold").text("Woensdag 11 Januari 2017");
  g.append("text").attr("x", 250).attr("y", 15.5)
    .attr("font-size", 11.5).attr("font-weight", "bold").text("(Starttijd Wo 00 UTC)");

  // referentielijnen
  g.selectAll(".ref").data(p.refs).enter().append("line")
    .attr("x1", L).attr("x2", R)
    .attr("y1", d => y(d.v)).attr("y2", d => y(d.v))
    .attr("stroke", d => d.c).attr("stroke-width", d => d.w);

  // ensemble leden
  const line = d3.line().x(d => x(d[0])).y(d => y(d[1]));
  const plot = g.append("g").attr("clip-path", `url(#clip${pi})`);
  plot.selectAll(".member").data(p.ens).enter().append("path")
    .attr("d", m => line(m.map((v, i) => [memberHours[i], v])))
    .attr("fill", "none").attr("stroke", "#78b443").attr("stroke-opacity", 0.7).attr("stroke-width", 1);

  plot.append("path").attr("d", line(p.mean.map((v, i) => [mainHours[i], v])))
    .attr("fill", "none").attr("stroke", "#993333").attr("stroke-width", 2).attr("stroke-dasharray", "2,2");
  plot.append("path").attr("d", line(p.ctrl.map((v, i) => [mainHours[i], v])))
    .attr("fill", "none").attr("stroke", "#0000ff").attr("stroke-width", 2).attr("stroke-dasharray", "4,3");
  plot.append("path").attr("d", line(p.oper.map((v, i) => [operHours[i], v])))
    .attr("fill", "none").attr("stroke", "#ff0000").attr("stroke-width", 2);

  // kader
  g.append("line").attr("x1", L).attr("x2", R).attr("y1", T).attr("y2", T).attr("stroke", "#777").attr("stroke-width", 1.5);
  g.append("line").attr("x1", L).attr("x2", R).attr("y1", B).attr("y2", B).attr("stroke", "#000").attr("stroke-width", 1.2);
  g.append("line").attr("x1", L).attr("x2", L).attr("y1", T).attr("y2", B).attr("stroke", "#000").attr("stroke-width", 1.2);
  g.append("line").attr("x1", R).attr("x2", R).attr("y1", T).attr("y2", B).attr("stroke", "#000").attr("stroke-width", 1.2);

  // y-assen
  const majors = d3.range(p.dom[0], p.dom[1] + 0.001, p.major);
  const minors = d3.range(p.dom[0], p.dom[1] + 0.001, p.minor).filter(v => Math.abs(v / p.major - Math.round(v / p.major)) > 1e-6);
  [[d3.axisLeft, L], [d3.axisRight, R]].forEach(([ax, pos]) => {
    const gm = g.append("g").attr("transform", `translate(${pos},0)`)
      .call(ax(y).tickValues(minors).tickSize(3).tickFormat(""));
    gm.select(".domain").remove();
    const ga = g.append("g").attr("transform", `translate(${pos},0)`)
      .call(ax(y).tickValues(majors).tickSize(5).tickPadding(3).tickFormat(d3.format("d")));
    ga.select(".domain").remove();
    ga.selectAll("text").attr("font-size", 7.5).attr("dy", "0.32em")
      .attr("font-family", "Liberation Sans, Arial, sans-serif");
  });

  // y-titel
  g.append("text").attr("transform", `translate(10,${(T + B) / 2}) rotate(-90)`)
    .attr("text-anchor", "middle").attr("font-size", 9.5)
    .attr("font-weight", p.unit === "(Celsius)" || p.unit === "m/s" ? "normal" : "bold")
    .text(p.unit);

  // x-as
  const gx = g.append("g").attr("transform", `translate(0,${B})`)
    .call(d3.axisBottom(x).tickValues(d3.range(0, 361, 12)).tickSize(0).tickPadding(5)
      .tickFormat(d => d % 24 === 0 ? "00" : "12"));
  gx.select(".domain").remove();
  gx.selectAll("text").attr("font-size", 7.5).attr("font-family", "Liberation Sans, Arial, sans-serif");

  g.selectAll(".day").data(days).enter().append("text")
    .attr("x", (d, i) => x(i * 24 + 12)).attr("y", 195.5)
    .attr("text-anchor", "middle").attr("font-size", 9.5).attr("font-weight", "bold").text(d => d);

  // station / grootheid
  g.append("text").attr("x", 353).attr("y", 39.5).attr("text-anchor", "middle")
    .attr("font-size", 10).attr("font-weight", "bold").text("Maastricht");
  g.append("text").attr("x", 353).attr("y", 50).attr("text-anchor", "middle")
    .attr("font-size", 10).attr("font-weight", "bold").text(p.name);

  // legenda
  const leg = [
    {t:"Control", c:"#0000ff", dash:"2,2", w:1.5, tx:55},
    {t:"Oper", c:"#ff0000", dash:null, w:2, tx:59},
    {t:"Ens mn", c:"#993333", dash:"2,2", w:2, tx:55}
  ];
  leg.forEach((l, i) => {
    const yy = 37.5 + i * 7.8;
    g.append("line").attr("x1", 36).attr("x2", 49).attr("y1", yy).attr("y2", yy)
      .attr("stroke", l.c).attr("stroke-width", l.w).attr("stroke-dasharray", l.dash);
    g.append("text").attr("x", l.tx).attr("y", yy + 2.5).attr("font-size", 6.6)
      .attr("letter-spacing", 0.8).text(l.t);
  });

  // bron
  g.append("text").attr("x", 427).attr("y", 203).attr("text-anchor", "end")
    .attr("font-size", 7).attr("font-weight", "bold").attr("fill", "#0000ff").text("Bron: ECMWF/KNMI");
});

// blauwe panelranden
const frame = svg.append("g").attr("stroke", "#3333ff").attr("stroke-width", 1.5).attr("fill", "none");
frame.append("rect").attr("x", 1).attr("y", 0.75).attr("width", 861).attr("height", 617.5);
frame.append("line").attr("x1", 431).attr("x2", 431).attr("y1", 0).attr("y2", 619);
[206, 411.5].forEach(v => frame.append("line").attr("x1", 0).attr("x2", 863).attr("y1", v).attr("y2", v));
</script>
</body>
</html>
